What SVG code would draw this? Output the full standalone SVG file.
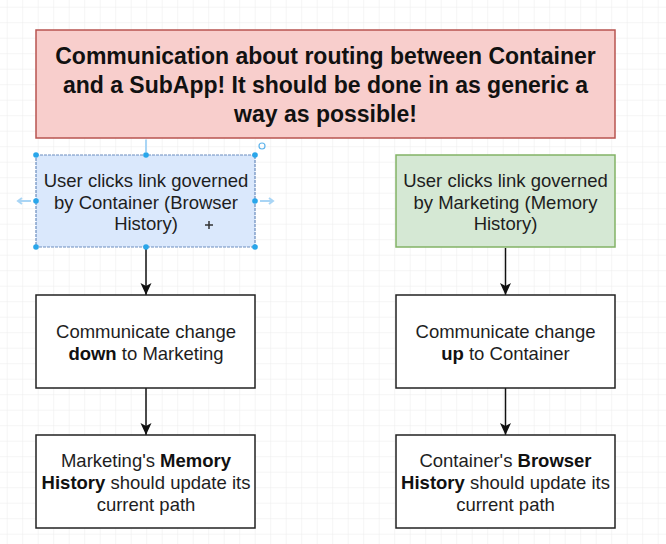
<svg xmlns="http://www.w3.org/2000/svg" width="666" height="544" viewBox="0 0 666 544">
  <defs>
    <pattern id="grid" x="6.7" y="6.7" width="15.5" height="15.5" patternUnits="userSpaceOnUse">
      <path d="M0,0 H15.5 M0,0 V15.5" fill="none" stroke="#ececec" stroke-width="1"/>
    </pattern>
    <marker id="arrow" viewBox="0 0 12 12" refX="12" refY="6" markerWidth="12" markerHeight="12" markerUnits="userSpaceOnUse" orient="auto">
      <path d="M0,0.5 L12,6 L0,11.5 L3,6 Z" fill="#111"/>
    </marker>
    <style>
      .t { font-family: "Liberation Sans", Arial, sans-serif; font-size: 18.5px; fill: #1e1e1e; text-anchor: middle; }
      .title { font-family: "Liberation Sans", Arial, sans-serif; font-size: 23px; font-weight: bold; fill: #111; text-anchor: middle; }
      .b { font-weight: bold; fill: #111; }
      .box { fill: #ffffff; stroke: #222; stroke-width: 1.5; }
      .conn { stroke: #111; stroke-width: 1.5; fill: none; marker-end: url(#arrow); }
      .handle { fill: #29a6ea; }
      .hover { stroke: #a9d5f5; stroke-width: 2; fill: none; }
    </style>
  </defs>
  <rect width="666" height="544" fill="#ffffff"/>
  <rect width="666" height="544" fill="url(#grid)"/>

  <g id="title">
    <rect x="36" y="30" width="579" height="108" fill="#f8cecc" stroke="#b85450" stroke-width="1.5"/>
    <text class="title" x="325.5" y="64">Communication about routing between Container</text>
    <text class="title" x="325.5" y="93">and a SubApp! It should be done in as generic a</text>
    <text class="title" x="325.5" y="122">way as possible!</text>
  </g>

  <g id="connectors">
    <line class="conn" x1="146" y1="248" x2="146" y2="295"/>
    <line class="conn" x1="146" y1="388" x2="146" y2="435"/>
    <line class="conn" x1="505.5" y1="248" x2="505.5" y2="295"/>
    <line class="conn" x1="505.5" y1="388" x2="505.5" y2="435"/>
  </g>

  <g id="container-click">
    <rect x="36" y="155" width="219" height="92" fill="#dae8fc" stroke="#6c8ebf" stroke-width="1.2" stroke-dasharray="3,1"/>
    <text class="t" x="146" y="187">User clicks link governed</text>
    <text class="t" x="146" y="208.5">by Container (Browser</text>
    <text class="t" x="146" y="230">History)</text>
  </g>

  <g id="selection">
    <path class="hover" d="M146,139.5 V152"/>
    <path class="hover" d="M31,201 H18 M22,198 L18,201 L22,204"/>
    <path class="hover" d="M260,201 H273 M269,198 L273,201 L269,204"/>
    <circle class="handle" cx="36" cy="155" r="2.8"/>
    <circle class="handle" cx="146" cy="155" r="2.8"/>
    <circle class="handle" cx="255" cy="155" r="2.8"/>
    <circle class="handle" cx="36" cy="201" r="2.8"/>
    <circle class="handle" cx="255" cy="201" r="2.8"/>
    <circle class="handle" cx="36" cy="247" r="2.8"/>
    <circle class="handle" cx="146" cy="247" r="2.8"/>
    <circle class="handle" cx="255" cy="247" r="2.8"/>
    <circle cx="262" cy="146" r="3" fill="none" stroke="#5fb4ec" stroke-width="1.2"/>
    <path d="M205,225 H213 M209,221 V229" stroke="#333" stroke-width="1.5" fill="none"/>
  </g>

  <g id="marketing-click">
    <rect x="396" y="155" width="219" height="92" fill="#d5e8d4" stroke="#82b366" stroke-width="1.5"/>
    <text class="t" x="505.5" y="187">User clicks link governed</text>
    <text class="t" x="505.5" y="208.5">by Marketing (Memory</text>
    <text class="t" x="505.5" y="230">History)</text>
  </g>

  <g id="communicate-down">
    <rect class="box" x="36" y="295" width="219" height="93"/>
    <text class="t" x="146" y="338">Communicate change</text>
    <text class="t" x="146" y="360"><tspan class="b">down</tspan> to Marketing</text>
  </g>

  <g id="communicate-up">
    <rect class="box" x="396" y="295" width="219" height="93"/>
    <text class="t" x="505.5" y="338">Communicate change</text>
    <text class="t" x="505.5" y="360"><tspan class="b">up</tspan> to Container</text>
  </g>

  <g id="memory-update">
    <rect class="box" x="36" y="435" width="219" height="93"/>
    <text class="t" x="146" y="467">Marketing's <tspan class="b">Memory</tspan></text>
    <text class="t" x="146" y="489"><tspan class="b">History</tspan> should update its</text>
    <text class="t" x="146" y="511">current path</text>
  </g>

  <g id="browser-update">
    <rect class="box" x="396" y="435" width="219" height="93"/>
    <text class="t" x="505.5" y="467">Container's <tspan class="b">Browser</tspan></text>
    <text class="t" x="505.5" y="489"><tspan class="b">History</tspan> should update its</text>
    <text class="t" x="505.5" y="511">current path</text>
  </g>
</svg>
